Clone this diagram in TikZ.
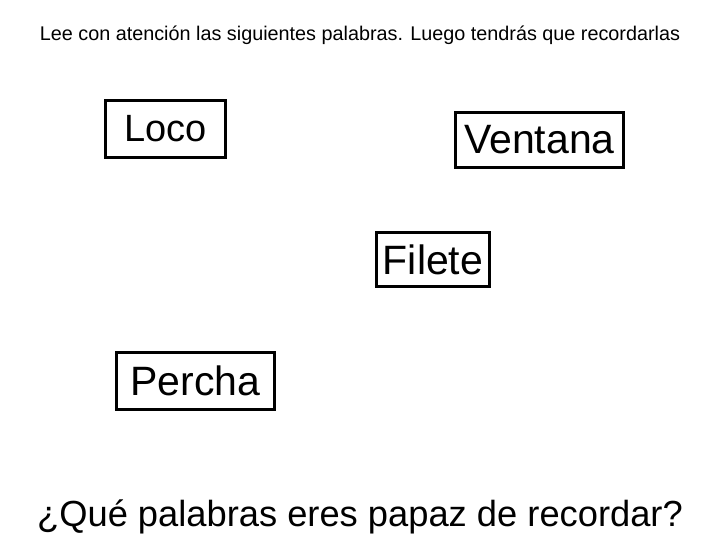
\documentclass[tikz,border=0pt]{standalone}
\usepackage{fontspec}
\setmainfont{Liberation Sans}
\begin{document}
\begin{tikzpicture}[x=1pt,y=-1pt,
  wbox/.style={draw=black,line width=3pt,inner sep=0pt,font=\fontsize{41}{41}\selectfont}]
\useasboundingbox (0,0) rectangle (720,540);
\node[font=\fontsize{19.8}{22}\selectfont] (title) at (360,35) {Lee con atención las siguientes palabras. Luego tendrás que recordarlas};
\node[wbox,minimum width=120,minimum height=57,font=\fontsize{38}{38}\selectfont] (loco) at (165.5,129) {Loco};
\node[wbox,minimum width=168,minimum height=55] (ventana) at (539.5,140) {Ventana};
\node[wbox,minimum width=113,minimum height=54] (filete) at (433,259.5) {Filete};
\node[wbox,minimum width=158,minimum height=57] (percha) at (195.5,381) {Percha};
\node[font=\fontsize{36.3}{38}\selectfont] (q) at (360,517) {¿Qué palabras eres papaz de recordar?};
\end{tikzpicture}
\end{document}
